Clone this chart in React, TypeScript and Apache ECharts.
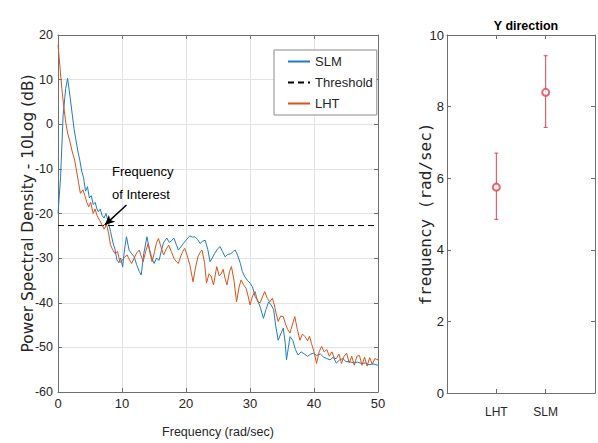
import React, { useEffect, useRef } from 'react';
import * as echarts from 'echarts';

const FONT = '"Liberation Sans", Arial, sans-serif';

// Power spectral density (dB) vs frequency (rad/sec)
const slmPSD: [number, number][] = [
  [0, -20], [0.4, -12], [0.8, 2], [1.2, 8], [1.5, 10.3], [1.9, 6], [2.2, 2.5], [2.5, -1], [2.8, -3.5],
  [3.1, -6], [3.4, -8], [3.7, -10.5], [4.0, -12], [4.3, -15], [4.6, -14], [4.9, -16.5], [5.2, -16],
  [5.5, -18], [5.8, -17.5], [6.1, -19], [6.3, -19.6], [6.6, -19], [6.9, -20.5], [7.2, -21], [7.5, -20],
  [7.9, -22.2], [8.2, -24], [8.6, -26.6], [8.9, -28], [9.2, -30.4], [9.5, -31], [9.8, -30], [10.1, -32],
  [10.4, -28], [10.7, -25.2], [11.1, -28.2], [11.5, -29], [11.9, -29.7], [12.3, -31.5], [12.7, -33],
  [13.0, -33.8], [13.4, -29], [13.9, -25.2], [14.2, -27.5], [14.6, -29.7], [15.0, -31.2], [15.4, -30],
  [15.8, -30.5], [16.2, -28], [16.5, -26.5], [17.0, -25.5], [17.4, -26.5], [17.8, -26], [18.1, -25.5],
  [18.5, -27], [18.8, -28.2], [19.2, -27.5], [19.6, -26.7], [20.0, -26], [20.3, -25.5], [20.6, -25],
  [21.0, -25.3], [21.4, -25.2], [21.8, -25.8], [22.2, -26.7], [22.6, -26.2], [23.0, -26], [23.4, -28],
  [23.75, -30.8], [24.1, -30], [24.5, -28.9], [24.9, -28], [25.3, -27.4], [25.7, -28.5], [26.1, -29.7],
  [26.5, -29.2], [27.0, -29], [27.4, -28.5], [27.7, -28.2], [28.1, -29.5], [28.5, -31.2], [28.8, -33],
  [29.2, -34.2], [29.6, -35], [30.0, -35.6], [30.4, -36.5], [30.8, -38.6], [31.2, -39.5], [31.6, -41],
  [32.1, -43.5], [32.5, -41.5], [32.9, -39.8], [33.3, -40.5], [33.7, -41.6], [34.0, -45], [34.4, -48.4],
  [34.8, -47], [35.2, -45.7], [35.5, -49], [35.7, -52.8], [36.0, -50], [36.25, -47.6], [36.7, -48.5],
  [37.1, -50.5], [37.5, -51.7], [38.0, -51], [38.5, -51.5], [39.0, -52], [39.5, -51.5], [39.9, -51.3],
  [40.4, -51.8], [41.0, -51.5], [41.5, -52.2], [42.0, -52.5], [42.5, -52.8], [43.0, -52.2], [43.5, -53.5],
  [44.0, -52.8], [44.5, -52.5], [45.0, -53.2], [45.6, -53.2], [46.2, -53.5], [46.8, -53.3], [47.4, -53.6],
  [48.0, -53.5], [48.6, -53.9], [49.2, -53.7], [50.0, -54],
];

const lhtPSD: [number, number][] = [
  [0, 17.8], [0.3, 13], [0.6, 8], [0.9, 4], [1.2, 0.5], [1.5, -2], [1.8, -3.5], [2.2, -6], [2.6, -8],
  [2.9, -10.5], [3.2, -13], [3.5, -15.5], [3.9, -14.7], [4.2, -16], [4.5, -17.5], [4.8, -18.5], [5.1, -17.5],
  [5.5, -20], [5.8, -19], [6.1, -20.5], [6.5, -21.5], [6.9, -22.6], [7.2, -23.5], [7.6, -22.5], [7.9, -24.4],
  [8.2, -27], [8.5, -28], [8.9, -29], [9.3, -28.5], [9.7, -31], [10.0, -30.5], [10.4, -29.8], [10.8, -29.3],
  [11.2, -30.5], [11.5, -31.2], [11.9, -30], [12.3, -28.8], [12.7, -28.2], [13.0, -29.5], [13.3, -30.8],
  [13.7, -28.5], [14.1, -26.7], [14.4, -29], [14.7, -30.8], [15.1, -28.5], [15.4, -26.5], [15.7, -25.6],
  [16.1, -27.5], [16.5, -29.3], [16.9, -28], [17.3, -27.1], [17.7, -28.5], [18.1, -30], [18.5, -30.8],
  [18.8, -31.2], [19.2, -29.5], [19.5, -28.5], [19.8, -27.8], [20.2, -29.5], [20.6, -31.5], [21.1, -35.3],
  [21.5, -32], [21.9, -29.5], [22.3, -28.5], [22.5, -28.2], [22.9, -31], [23.2, -35.6], [23.6, -33.5],
  [23.9, -34], [24.3, -36], [24.8, -31.9], [25.2, -34], [25.5, -33.5], [25.8, -32.5], [26.1, -34.5],
  [26.4, -36], [26.8, -33], [27.1, -31.9], [27.5, -35], [27.9, -39.8], [28.3, -36.5], [28.6, -34.9],
  [29.0, -36], [29.4, -36.8], [29.7, -38.5], [30.0, -40.5], [30.4, -38.5], [30.8, -37.5], [31.2, -39.8],
  [31.6, -40], [32.0, -38.5], [32.3, -37.5], [32.7, -39], [33.1, -39.8], [33.5, -39], [33.8, -40.5],
  [34.1, -42.5], [34.4, -44.2], [34.8, -43], [35.2, -43.1], [35.6, -45], [35.9, -46], [36.25, -46.8],
  [36.6, -45], [37.0, -43.1], [37.4, -46], [37.8, -48.4], [38.2, -47], [38.6, -47.6], [39.0, -48.5],
  [39.3, -47.5], [39.6, -49.1], [40.0, -51], [40.4, -53.6], [40.8, -51], [41.2, -49.8], [41.6, -51],
  [42.0, -50.5], [42.4, -52], [42.8, -51], [43.2, -52.5], [43.5, -52.5], [43.9, -51.5], [44.3, -53.6],
  [44.7, -52], [45.1, -51.3], [45.5, -53.5], [45.9, -52], [46.3, -54], [46.7, -52], [47.1, -51.8],
  [47.5, -54], [47.9, -52.2], [48.3, -54.2], [48.7, -52.3], [49.1, -53.8], [49.5, -52.5], [50.0, -52.8],
];

const thresholdDB = -22.7;
const thresholdRange = [0, 50];
const arrowFrom: [number, number] = [10.7, -18.1];
const arrowTo: [number, number] = [7.3, -22.6];

// Right panel: Y direction frequency of interest
const groups = ['', 'LHT', 'SLM', ''];
const meanFreq = [5.75, 8.4];
const lowFreq = [4.85, 7.42];
const highFreq = [6.7, 9.42];

const AXIS = '#6e6e6e';
const TEXT = '#262626';
const RED = '#e4404c';
const BLUE = '#1f7cc4';
const ORANGE = '#D95319';

export default function App() {
  const ref = useRef<HTMLDivElement>(null);
  useEffect(() => {
    if (!ref.current) return;
    const chart = echarts.init(ref.current, undefined, { renderer: 'svg' });
    const errData = [1, 2].map((gi, i) => [gi, lowFreq[i], highFreq[i]]);
    const meanData = [1, 2].map((gi, i) => [gi, meanFreq[i]]);
    const lineAxis = { show: true, onZero: false, lineStyle: { color: AXIS, width: 1 } };
    const tickIn = { show: true, inside: true, length: 4, lineStyle: { color: AXIS } };
    chart.setOption({
      animation: false,
      backgroundColor: '#fff',
      title: {
        text: 'Y direction',
        left: 521,
        top: 14,
        textAlign: 'center',
        textStyle: { fontFamily: FONT, fontWeight: 'bold', fontSize: 12.5, color: '#000' },
      },
      legend: {
        left: 274,
        top: 50,
        orient: 'vertical',
        data: ['SLM', 'Threshold', 'LHT'],
        itemWidth: 22,
        itemHeight: 14,
        itemGap: 8,
        padding: [5, 4, 5, 13],
        borderColor: '#8a8a8a',
        borderWidth: 1,
        backgroundColor: '#fff',
        itemStyle: { opacity: 0 },
        textStyle: { fontFamily: FONT, fontSize: 13, color: TEXT },
      },
      grid: [
        { left: 58, top: 35, width: 320, height: 357 },
        { left: 447, top: 35, width: 148, height: 358 },
      ],
      xAxis: [
        {
          gridIndex: 0, type: 'value', min: 0, max: 50, interval: 10,
          name: 'Frequency (rad/sec)', nameLocation: 'middle', nameGap: 33, nameMoveOverlap: false,
          nameTextStyle: { fontFamily: FONT, fontSize: 12.5, color: TEXT },
          axisLine: lineAxis, axisTick: tickIn,
          axisLabel: { fontFamily: FONT, fontSize: 13, color: TEXT, margin: 5 },
          splitLine: { show: true, lineStyle: { color: '#e3e3e3' } },
        },
        {
          gridIndex: 0, type: 'value', min: 0, max: 50, interval: 10, position: 'top',
          axisLine: lineAxis, axisTick: tickIn, axisLabel: { show: false }, splitLine: { show: false },
        },
        {
          gridIndex: 1, type: 'category', data: groups, boundaryGap: false,
          axisLine: lineAxis, axisTick: { ...tickIn, interval: 0 },
          axisLabel: { fontFamily: FONT, fontSize: 12, color: TEXT, margin: 13, interval: 0 },
          splitLine: { show: false },
        },
        {
          gridIndex: 1, type: 'category', data: groups, boundaryGap: false, position: 'top',
          axisLine: lineAxis, axisTick: { ...tickIn, interval: 0 }, axisLabel: { show: false },
          splitLine: { show: false },
        },
      ],
      yAxis: [
        {
          gridIndex: 0, type: 'value', min: -60, max: 20, interval: 10,
          name: 'Power Spectral Density - 10Log (dB)', nameLocation: 'middle', nameGap: 22.5,
          nameMoveOverlap: false,
          nameTextStyle: { fontFamily: '"DejaVu Sans", sans-serif', fontSize: 15.4, color: TEXT },
          axisLine: lineAxis, axisTick: tickIn,
          axisLabel: { fontFamily: FONT, fontSize: 12.5, color: TEXT, margin: 5 },
          splitLine: { show: true, lineStyle: { color: '#e3e3e3' } },
        },
        {
          gridIndex: 0, type: 'value', min: -60, max: 20, interval: 10, position: 'right',
          axisLine: lineAxis, axisTick: tickIn, axisLabel: { show: false }, splitLine: { show: false },
        },
        {
          gridIndex: 1, type: 'value', min: 0, max: 10, interval: 2,
          name: 'frequency (rad/sec)', nameLocation: 'middle', nameGap: 14, nameMoveOverlap: false,
          nameTextStyle: { fontFamily: '"DejaVu Sans Mono", monospace', fontSize: 16, color: TEXT },
          axisLine: lineAxis, axisTick: tickIn,
          axisLabel: { fontFamily: FONT, fontSize: 13, color: TEXT, margin: 3 },
          splitLine: { show: false },
        },
        {
          gridIndex: 1, type: 'value', min: 0, max: 10, interval: 2, position: 'right',
          axisLine: lineAxis, axisTick: tickIn, axisLabel: { show: false }, splitLine: { show: false },
        },
      ],
      series: [
        {
          name: 'SLM', type: 'line', xAxisIndex: 0, yAxisIndex: 0, data: slmPSD,
          symbol: 'none', showSymbol: false, color: BLUE,
          lineStyle: { width: 1, color: BLUE },
        },
        {
          name: 'Threshold', type: 'line', xAxisIndex: 0, yAxisIndex: 0,
          data: thresholdRange.map((x) => [x, thresholdDB]),
          symbol: 'none', showSymbol: false, color: '#000',
          lineStyle: { width: 1, color: '#000', type: [6, 4] },
          markLine: {
            silent: true,
            symbol: ['none', 'arrow'],
            symbolSize: [7, 10],
            label: { show: false },
            lineStyle: { color: '#000', width: 1.5, type: 'solid' },
            data: [[{ coord: arrowFrom }, { coord: arrowTo }]],
          },
        },
        {
          name: 'LHT', type: 'line', xAxisIndex: 0, yAxisIndex: 0, data: lhtPSD,
          symbol: 'none', showSymbol: false, color: ORANGE,
          lineStyle: { width: 1, color: ORANGE },
        },
        {
          name: 'range', type: 'custom', xAxisIndex: 2, yAxisIndex: 2, data: errData,
          encode: { x: 0, y: [1, 2] },
          renderItem: (_params: any, api: any) => {
            const x = api.value(0);
            const lo = api.coord([x, api.value(1)]);
            const hi = api.coord([x, api.value(2)]);
            const style = { stroke: RED, lineWidth: 1 };
            return {
              type: 'group',
              children: [
                { type: 'line', shape: { x1: lo[0], y1: lo[1], x2: hi[0], y2: hi[1] }, style },
                { type: 'line', shape: { x1: lo[0] - 2, y1: lo[1], x2: lo[0] + 2, y2: lo[1] }, style },
                { type: 'line', shape: { x1: hi[0] - 2, y1: hi[1], x2: hi[0] + 2, y2: hi[1] }, style },
              ],
            };
          },
        },
        {
          name: 'mean', type: 'scatter', xAxisIndex: 2, yAxisIndex: 2, data: meanData,
          symbol: 'emptyCircle', symbolSize: 7, z: 5,
          itemStyle: { color: RED, borderColor: RED, borderWidth: 1 },
        },
      ],
      graphic: [
        {
          type: 'text', left: 112, top: 160, z: 10,
          style: {
            text: 'Frequency\nof Interest',
            font: `13px ${FONT}`,
            lineHeight: 23,
            fill: '#000',
          },
        },
      ],
    });
    return () => chart.dispose();
  }, []);
  return <div ref={ref} style={{ width: 598, height: 443, position: 'absolute', left: 0, top: 0 }} />;
}
